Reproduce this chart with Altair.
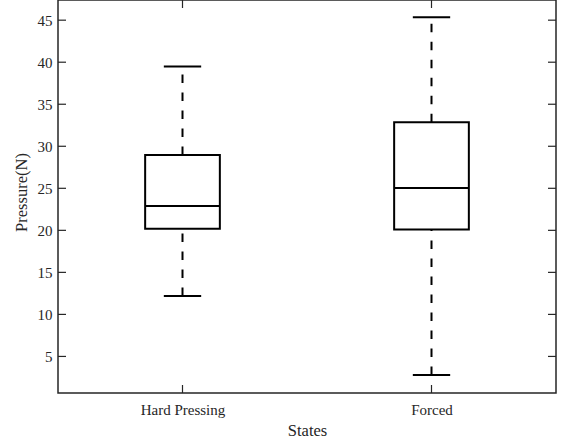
import altair as alt
import pandas as pd

# Box-plot summary per state (N)
states = ["Hard Pressing", "Forced"]
lower_whisker = [12.2, 2.8]
q1 = [20.2, 20.1]
median = [22.9, 25.05]
q3 = [28.95, 32.85]
upper_whisker = [39.5, 45.35]

y_ticks = [5, 10, 15, 20, 25, 30, 35, 40, 45]

W, H = 498, 393
BOX_HALF = 0.15
CAP_HALF = 0.075
INK = "#000000"
AXIS_INK = "#262626"
FONT = "Liberation Serif"

pos = list(range(1, len(states) + 1))
df = pd.DataFrame({
    "state": states,
    "pos": pos,
    "lo": lower_whisker,
    "q1": q1,
    "med": median,
    "q3": q3,
    "hi": upper_whisker,
})
df["left"] = df["pos"] - BOX_HALF
df["right"] = df["pos"] + BOX_HALF
df["cap_l"] = df["pos"] - CAP_HALF
df["cap_r"] = df["pos"] + CAP_HALF

label_expr = "datum.value == 1 ? 'Hard Pressing' : datum.value == 2 ? 'Forced' : ''"

x_scale = alt.Scale(domain=[0.5, 2.5], nice=False, zero=False)
y_scale = alt.Scale(domain=[0.65, 47.4], nice=False, zero=False)

x_axis = alt.Axis(
    values=pos, labelExpr=label_expr, ticks=False, domain=False, grid=False,
    title="States", labelFont=FONT, titleFont=FONT, labelFontSize=15,
    titleFontSize=16.5, titleFontWeight="normal", labelColor=AXIS_INK,
    titleColor=AXIS_INK, labelPadding=9, titlePadding=5,
)
y_axis = alt.Axis(
    values=y_ticks, ticks=False, domain=False, grid=False,
    title="Pressure(N)", labelFont=FONT, titleFont=FONT, labelFontSize=15,
    titleFontSize=16.5, titleFontWeight="normal", labelColor=AXIS_INK,
    titleColor=AXIS_INK, labelPadding=6, titlePadding=8, titleY=192,
)

base = alt.Chart(df)

whiskers_up = base.mark_rule(color=INK, strokeWidth=2, strokeDash=[8.5, 9.5]).encode(
    x=alt.X("pos:Q", scale=x_scale, axis=x_axis),
    y=alt.Y("q3:Q", scale=y_scale, axis=y_axis),
    y2="hi:Q",
)
whiskers_down = base.mark_rule(color=INK, strokeWidth=2, strokeDash=[8.5, 9.5]).encode(
    x="pos:Q", y="lo:Q", y2="q1:Q",
)
caps_hi = base.mark_rule(color=INK, strokeWidth=2).encode(x="cap_l:Q", x2="cap_r:Q", y="hi:Q")
caps_lo = base.mark_rule(color=INK, strokeWidth=2).encode(x="cap_l:Q", x2="cap_r:Q", y="lo:Q")
boxes = base.mark_rect(fill="white", stroke=INK, strokeWidth=2).encode(
    x="left:Q", x2="right:Q", y="q1:Q", y2="q3:Q",
)
medians = base.mark_rule(color=INK, strokeWidth=2).encode(x="left:Q", x2="right:Q", y="med:Q")

# Inward-pointing tick marks on all four sides of the frame
yt = alt.Chart(pd.DataFrame({"v": y_ticks}))
ticks_left = yt.mark_rule(color=AXIS_INK, strokeWidth=1.2).encode(
    y="v:Q", x=alt.value(0), x2=alt.value(8))
ticks_right = yt.mark_rule(color=AXIS_INK, strokeWidth=1.2).encode(
    y="v:Q", x=alt.value(W - 8), x2=alt.value(W))
ticks_bottom = base.mark_rule(color=AXIS_INK, strokeWidth=1.2).encode(
    x="pos:Q", y=alt.value(H - 8), y2=alt.value(H))
ticks_top = base.mark_rule(color=AXIS_INK, strokeWidth=1.2).encode(
    x="pos:Q", y=alt.value(0), y2=alt.value(8))

chart = alt.layer(
    whiskers_up, whiskers_down, caps_hi, caps_lo, boxes, medians,
    ticks_left, ticks_right, ticks_bottom, ticks_top,
).properties(
    width=W, height=H,
    background="white",
    autosize=alt.AutoSizeParams(type="none"),
    padding={"left": 58, "top": 0, "right": 5, "bottom": 50},
).configure_view(
    stroke=AXIS_INK, strokeWidth=1.5, fill="white",
)

chart.save("out.html", embed_options={"renderer": "svg", "actions": False})
